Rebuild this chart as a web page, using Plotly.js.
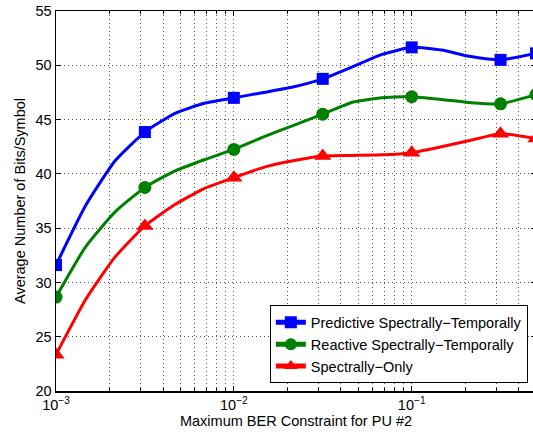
<!DOCTYPE html>
<html>
<head>
<meta charset="utf-8">
<script src="https://cdn.plot.ly/plotly-3.0.1.min.js"></script>
<style>
html,body{margin:0;padding:0;overflow:hidden;background:#fff;width:533px;height:436px;}
#chart{width:560px;height:436px;}
</style>
</head>
<body>
<div id="chart"></div>
<script>
// Maximum BER constraint (x) values
const berValues = [0.001, 0.00147, 0.00215, 0.00316, 0.00464, 0.00681, 0.01, 0.0147, 0.0215, 0.0316, 0.0464, 0.0681, 0.1, 0.147, 0.215, 0.316, 0.5];
// Average number of bits/symbol
const predictiveST = [31.6, 37.1, 41.2, 43.85, 45.55, 46.5, 47.0, 47.5, 48.0, 48.75, 49.85, 51.0, 51.65, 51.4, 50.8, 50.5, 51.1];
const reactiveST   = [28.65, 33.3, 36.5, 38.75, 40.25, 41.3, 42.25, 43.4, 44.45, 45.5, 46.6, 47.0, 47.1, 46.85, 46.55, 46.45, 47.3];
const spectrallyOnly = [23.35, 28.45, 32.35, 35.2, 37.15, 38.65, 39.65, 40.6, 41.2, 41.65, 41.7, 41.75, 41.95, 42.5, 43.1, 43.7, 43.25];
// which points carry a marker
const markerFlags = [1,0,0,1,0,0,1,0,0,1,0,0,1,0,0,1,1];
const seriesNames = ["Predictive Spectrally\u2212Temporally", "Reactive Spectrally\u2212Temporally", "Spectrally\u2212Only"];
const xTickVals = [0.001, 0.01, 0.1];
const xTickText = ["10<sup>\u22123</sup>", "10<sup>\u22122</sup>", "10<sup>\u22121</sup>"];
const xMinorVals = [0.002,0.003,0.004,0.005,0.006,0.007,0.008,0.009,
                    0.02,0.03,0.04,0.05,0.06,0.07,0.08,0.09,
                    0.2,0.3,0.4,0.5];
const yTickVals = [20,25,30,35,40,45,50,55];

function sizes(s){ return markerFlags.map(f => f ? s : 0); }

const font = "'Liberation Sans', Arial, sans-serif";
const FS = 14.5;
const traces = [
  {x: berValues, y: predictiveST, name: seriesNames[0], mode: 'lines+markers',
   line: {color: '#0000ff', width: 3, shape: 'spline', smoothing: 0.5},
   marker: {symbol: 'square', size: sizes(12), color: '#0000ff', opacity: 1, line: {width: 0}}},
  {x: berValues, y: reactiveST, name: seriesNames[1], mode: 'lines+markers',
   line: {color: '#008000', width: 3, shape: 'spline', smoothing: 0.5},
   marker: {symbol: 'circle', size: sizes(13), color: '#008000', opacity: 1, line: {width: 0}}},
  {x: berValues, y: spectrallyOnly, name: seriesNames[2], mode: 'lines+markers',
   line: {color: '#ff0000', width: 3, shape: 'spline', smoothing: 0.5},
   marker: {symbol: 'triangle-up', size: sizes(15), color: '#ff0000', opacity: 1, line: {width: 0}}}
];

const gridStyle = {gridcolor: '#555', griddash: '1px,3px', gridwidth: 1};
const layout = {
  width: 560, height: 436,
  margin: {l: 56, r: 24, t: 11, b: 45},
  paper_bgcolor: '#fff', plot_bgcolor: '#fff',
  font: {family: font, size: FS, color: '#000'},
  showlegend: true,
  legend: {x: 0.983, y: 0.02, xanchor: 'right', yanchor: 'bottom',
           bgcolor: '#fff', bordercolor: '#000', borderwidth: 1,
           itemsizing: 'constant', tracegroupgap: 0,
           font: {family: font, size: FS, color: '#000'}},
  xaxis: Object.assign({type: 'log', range: [-3, Math.log10(0.5)],
          tickmode: 'array', tickvals: xTickVals, ticktext: xTickText,
          showgrid: true,
          ticks: 'inside', ticklen: 5, tickcolor: '#000',
          minor: Object.assign({tickmode: 'array', tickvals: xMinorVals, showgrid: true,
                  ticks: 'inside', ticklen: 3, tickcolor: '#000'}, gridStyle),
          showline: true, linecolor: '#000', linewidth: 1.5, mirror: 'ticks',
          zeroline: false, tickfont: {size: FS},
          title: {text: 'Maximum BER Constraint for PU #2', font: {size: FS}, standoff: 2}}, gridStyle),
  yaxis: Object.assign({range: [20, 55], tickmode: 'array', tickvals: yTickVals,
          showgrid: true,
          ticks: 'inside', ticklen: 5, tickcolor: '#000',
          showline: true, linecolor: '#000', linewidth: 1.5, mirror: 'ticks',
          zeroline: false, tickfont: {size: FS},
          title: {text: 'Average Number of Bits/Symbol', font: {size: FS}, standoff: 6}}, gridStyle)
};

Plotly.newPlot('chart', traces, layout, {displayModeBar: false, staticPlot: true});
</script>
</body>
</html>
